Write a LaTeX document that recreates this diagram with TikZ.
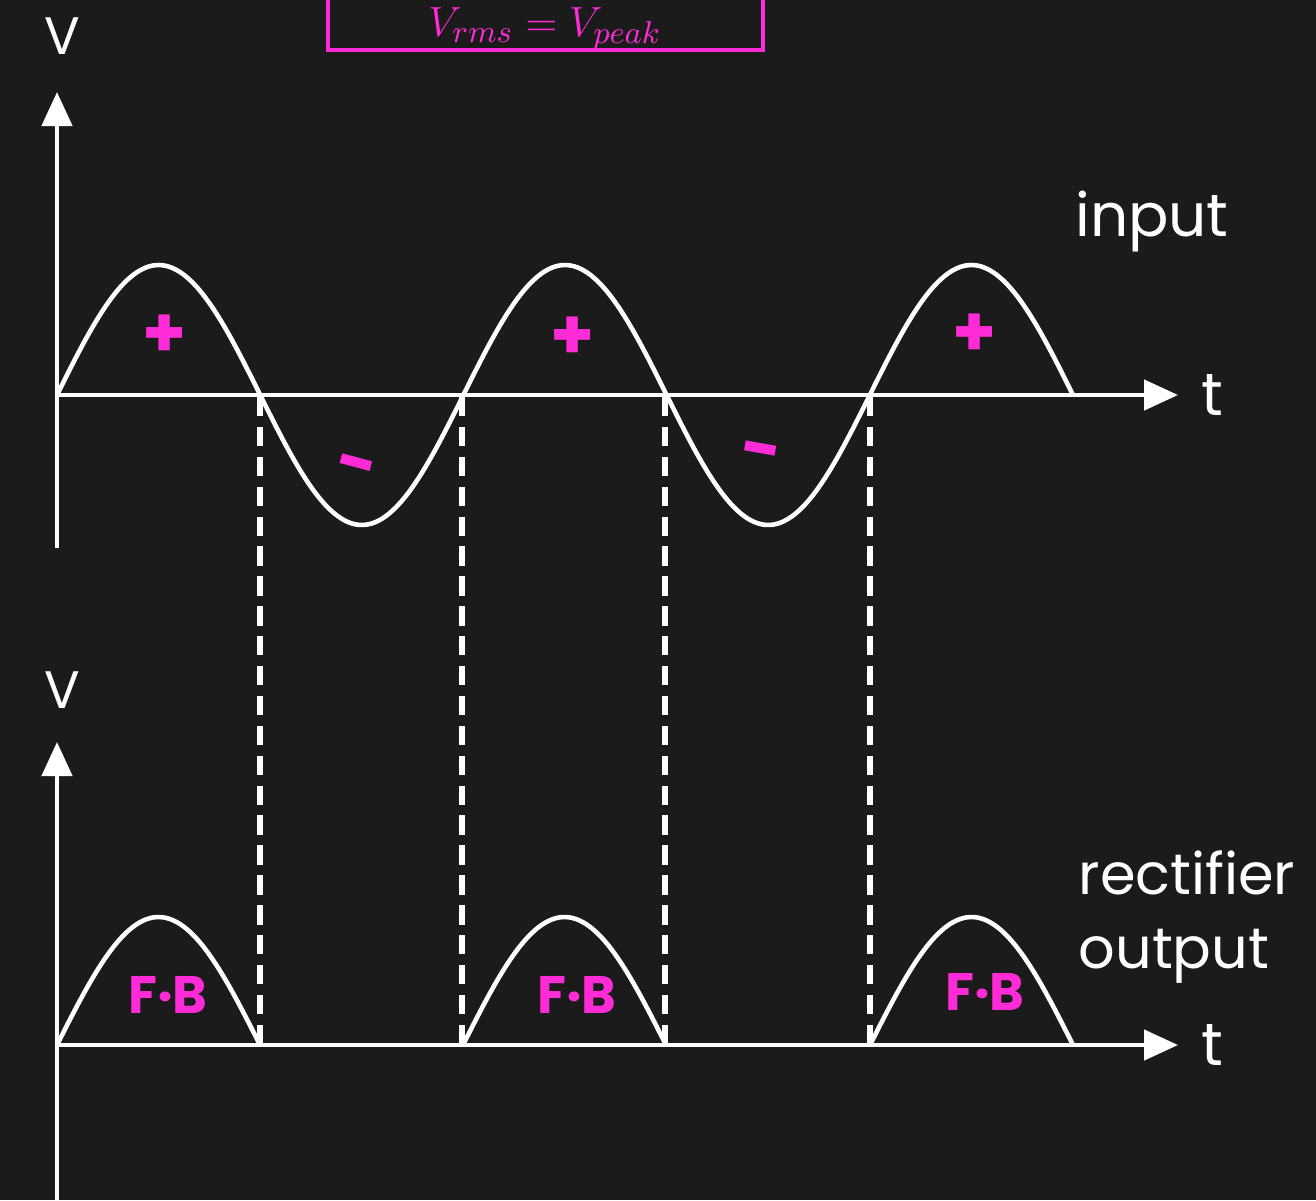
\documentclass[tikz,border=0pt]{standalone}
\usepackage{fontspec}
\setmainfont{Poppins}
\usetikzlibrary{arrows.meta}
\definecolor{boardbg}{HTML}{1B1B1B}
\definecolor{inkpink}{HTML}{FF2BD6}

\begin{document}
\begin{tikzpicture}[
    x=0.01cm, y=-0.01cm,
    axis/.style={white, line width=1.3pt, -{Triangle[length=0.34cm, width=0.3cm]}},
    wave/.style={white, line width=1.3pt},
    guide/.style={white, line width=1.5pt, dash pattern=on 5.5pt off 3pt},
    axlabel/.style={text=white, font=\fontsize{17}{21}\selectfont, inner sep=0pt},
    sign/.style={text=inkpink, font=\fontsize{20}{24}\selectfont\bfseries, inner sep=0pt},
    fb/.style={text=inkpink, font=\fontsize{15}{18}\selectfont\bfseries, inner sep=0pt},
]

% Background and frame
\fill[boardbg] (0,0) rectangle (1316,1200);
\useasboundingbox (0,0) rectangle (1316,1200);

% Formula box (cut off at the top)
\begin{scope}
\clip (0,0) rectangle (1316,1200);
\draw[inkpink, line width=1.2pt] (328,-20) rectangle (763,50);
\end{scope}
\node[text=inkpink, font=\fontsize{13}{15}\selectfont, anchor=base, inner sep=0pt] (vrms) at (545,36) {$V_{rms} = V_{peak}$};

% Input axes
\coordinate (o1) at (57,395);
\coordinate (v1base) at (57,548);
\coordinate (v1top) at (57,92);
\coordinate (t1end) at (1178,395);
\draw[axis] (v1base) -- (v1top);
\draw[axis] (o1) -- (t1end);
\node[axlabel, font=\fontsize{15}{18}\selectfont] (v1) at (62,36) {V};
\node[axlabel] (t1) at (1212,395) {t};
\node[axlabel] (inlabel) at (1152,222) {input};

% Input sine wave
\draw[wave] plot[domain=57:1073, samples=160, smooth] (\x, {395-130*sin((\x-57)/203.2*180)});

% Output axes
\coordinate (o2) at (57,1045);
\coordinate (v2base) at (57,1205);
\coordinate (v2top) at (57,742);
\coordinate (t2end) at (1178,1045);
\draw[axis] (v2base) -- (v2top);
\draw[axis] (o2) -- (t2end);
\node[axlabel, font=\fontsize{15}{18}\selectfont] (v2) at (62,690) {V};
\node[axlabel] (t2) at (1212,1045) {t};
\node[axlabel, align=left, anchor=north west, font=\fontsize{16.3}{21}\selectfont] (outlabel) at (1078,850) {rectifier\\output};

% Rectified half waves
\foreach \s in {57, 463, 870}
  \draw[wave] plot[domain=\s:\s+203, samples=60, smooth] (\x, {1045-128*sin((\x-\s)/203*180)});

% Zero crossing guides
\foreach \g [count=\i] in {260, 462, 665, 870} {
  \coordinate (gt\i) at (\g,397);
  \coordinate (gb\i) at (\g,1045);
  \draw[guide] (gt\i) -- (gb\i);
}

% Signs
\node[sign] (p1) at (165,336) {+};
\node[sign] (p2) at (573,338) {+};
\node[sign] (p3) at (975,335) {+};
\node[sign, rotate=-15] (n1) at (355,472) {-};
\node[sign, rotate=-10] (n2) at (760,458) {-};

% Forward bias marks
\node[fb] (fb1) at (168,995) {F·B};
\node[fb] (fb2) at (577,995) {F·B};
\node[fb] (fb3) at (985,992) {F·B};

\end{tikzpicture}
\end{document}
